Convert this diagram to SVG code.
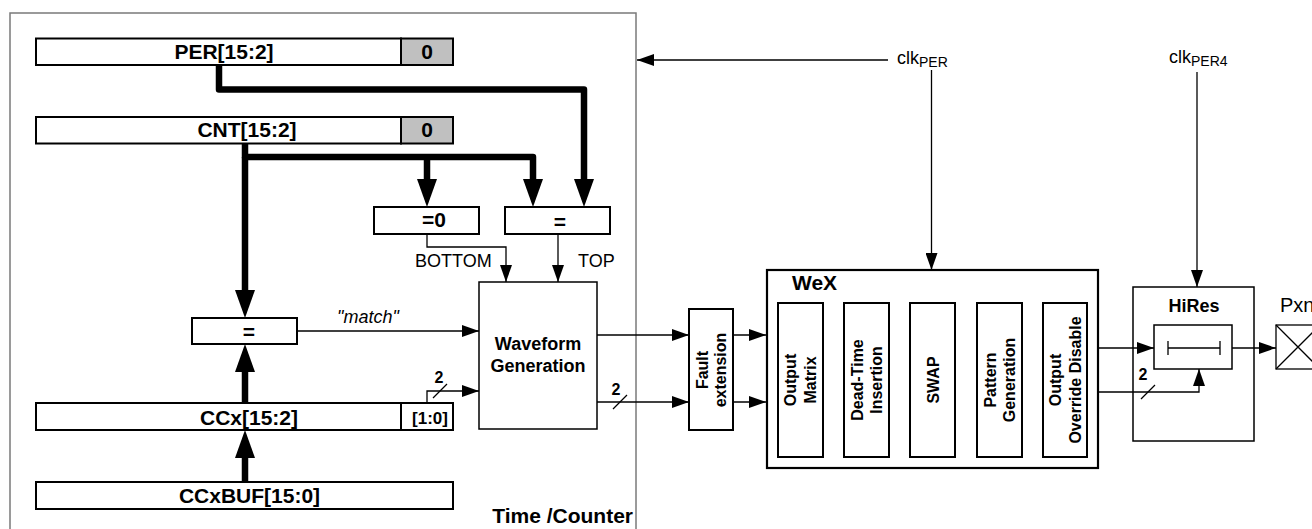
<svg xmlns="http://www.w3.org/2000/svg" width="1312" height="529" viewBox="0 0 1312 529">
<style>
text{font-family:"Liberation Sans",Arial,sans-serif;fill:#000}
.b{font-weight:bold}
.reg{fill:#fff;stroke:#000;stroke-width:2}
.gray{fill:#c0c0c0;stroke:#000;stroke-width:2}
.box{fill:#fff;stroke:#000;stroke-width:2}
.box1{fill:#fff;stroke:#000;stroke-width:1.5}
.thin{fill:none;stroke:#000;stroke-width:1.3}
.bus{fill:none;stroke:#000;stroke-width:6.5;stroke-linejoin:round}
.rt{font-size:21px;font-weight:bold;text-anchor:middle}
.vt{font-size:16px;font-weight:bold;text-anchor:middle}
.lbl{font-size:18px}
.n2{font-size:16px;font-weight:bold;text-anchor:middle}
</style>
<defs>
<marker id="a" markerUnits="userSpaceOnUse" markerWidth="17" markerHeight="12" refX="17" refY="6" orient="auto"><path d="M0,0 L17,6 L0,12 z" fill="#000"/></marker>
<marker id="A" markerUnits="userSpaceOnUse" markerWidth="28" markerHeight="20" refX="0" refY="10" orient="auto"><path d="M0,0 L28,10 L0,20 z" fill="#000"/></marker>
</defs>
<rect width="1312" height="529" fill="#fff"/>

<g id="time-counter">
<rect x="10" y="13" width="626" height="540" fill="none" stroke="#7a7a7a" stroke-width="1.5"/>
<text x="633" y="523" class="b" font-size="21" text-anchor="end">Time /Counter</text>
</g>

<g id="per">
<rect x="36" y="38.5" width="365" height="26.5" class="reg"/>
<rect x="401" y="38.5" width="52" height="26.5" class="gray"/>
<text x="224" y="58.5" class="rt">PER[15:2]</text>
<text x="427" y="58.5" class="rt">0</text>
</g>
<g id="cnt">
<rect x="36" y="117" width="365" height="26.5" class="reg"/>
<rect x="401" y="117" width="52" height="26.5" class="gray"/>
<text x="247" y="137" class="rt">CNT[15:2]</text>
<text x="427" y="137" class="rt">0</text>
</g>
<g id="ccx">
<rect x="36" y="403" width="365" height="27" class="reg"/>
<rect x="401" y="403" width="52" height="27" class="reg"/>
<text x="249" y="425" class="rt">CCx[15:2]</text>
<text x="430" y="424" class="b" font-size="17" text-anchor="middle">[1:0]</text>
</g>
<g id="ccxbuf">
<rect x="36" y="482" width="417" height="27" class="reg"/>
<text x="249.5" y="503" class="rt">CCxBUF[15:0]</text>
</g>
<g id="cmp-zero">
<rect x="374" y="207" width="105" height="27" class="box"/>
<text x="434" y="227" class="rt">=0</text>
</g>
<g id="cmp-top">
<rect x="505" y="207" width="105" height="27" class="box"/>
<text x="560" y="228.5" class="rt">=</text>
</g>
<g id="cmp-match">
<rect x="192" y="318" width="105" height="26" class="box"/>
<text x="249" y="338.5" class="rt">=</text>
</g>
<g id="waveform">
<rect x="479" y="282" width="118" height="147" class="box1"/>
<text x="538" y="350" class="b" font-size="18" text-anchor="middle">Waveform</text>
<text x="538" y="372" class="b" font-size="18" text-anchor="middle">Generation</text>
</g>
<g id="fault">
<rect x="689" y="309" width="44" height="121" class="box"/>
<text transform="translate(708,370) rotate(-90)" class="vt">Fault</text>
<text transform="translate(726,370) rotate(-90)" class="vt">extension</text>
</g>
<g id="wex">
<rect x="767" y="270" width="331" height="198" fill="#fff" stroke="#000" stroke-width="2.2"/>
<text x="792" y="290" class="b" font-size="21">WeX</text>
</g>
<g id="wex-output-matrix">
<rect x="778" y="303" width="45" height="154" class="box"/>
<text transform="translate(796,380) rotate(-90)" class="vt">Output</text>
<text transform="translate(815.5,380) rotate(-90)" class="vt">Matrix</text>
</g>
<g id="wex-deadtime">
<rect x="844" y="303" width="45" height="154" class="box"/>
<text transform="translate(862.5,380) rotate(-90)" class="vt">Dead-Time</text>
<text transform="translate(881.5,380) rotate(-90)" class="vt">Insertion</text>
</g>
<g id="wex-swap">
<rect x="910" y="303" width="45" height="154" class="box"/>
<text transform="translate(938.5,380) rotate(-90)" class="vt">SWAP</text>
</g>
<g id="wex-pattern">
<rect x="977" y="303" width="45" height="154" class="box"/>
<text transform="translate(995.5,380) rotate(-90)" class="vt">Pattern</text>
<text transform="translate(1014.5,380) rotate(-90)" class="vt">Generation</text>
</g>
<g id="wex-override">
<rect x="1043" y="303" width="44" height="154" class="box"/>
<text transform="translate(1061,380) rotate(-90)" class="vt">Output</text>
<text transform="translate(1081,380) rotate(-90)" class="vt">Override Disable</text>
</g>
<g id="hires">
<rect x="1133" y="287" width="121" height="154" class="box1"/>
<text x="1194" y="312" class="b" font-size="18" text-anchor="middle">HiRes</text>
<rect x="1154" y="325" width="78" height="44" class="box1"/>
<path class="thin" d="M1168,348 H1220 M1168,341 V355 M1220,341 V355"/>
</g>
<g id="pxn">
<rect x="1276" y="325" width="44" height="44" fill="#fff" stroke="#000" stroke-width="1.3"/>
<path class="thin" d="M1276,325 L1320,369 M1276,369 L1320,325"/>
<text x="1280" y="312" font-size="20">Pxn</text>
</g>
<g id="clk-per">
<text x="897" y="64" font-size="18">clk<tspan font-size="14" dy="3">PER</tspan></text>
</g>
<g id="clk-per4">
<text x="1169" y="63" font-size="18">clk<tspan font-size="14" dy="3">PER4</tspan></text>
</g>

<g id="connectors">
<path class="bus" d="M219,65 V89.5 H584 V179" marker-end="url(#A)"/>
<path class="bus" d="M245,143.5 V157 H533 V179" marker-end="url(#A)"/>
<path class="bus" d="M427,157 V179" marker-end="url(#A)"/>
<path class="bus" d="M245,157 V290" marker-end="url(#A)"/>
<path class="bus" d="M245,403 V372" marker-end="url(#A)"/>
<path class="bus" d="M245,482 V458" marker-end="url(#A)"/>
<path class="thin" d="M427,234 V247 H506 V282" marker-end="url(#a)"/>
<path class="thin" d="M558,234 V282" marker-end="url(#a)"/>
<path class="thin" d="M297,331 H479" marker-end="url(#a)"/>
<path class="thin" d="M427,403 V391 H479" marker-end="url(#a)"/>
<path class="thin" d="M597,335 H689" marker-end="url(#a)"/>
<path class="thin" d="M597,402 H689" marker-end="url(#a)"/>
<path class="thin" d="M733,335 H766" marker-end="url(#a)"/>
<path class="thin" d="M733,402 H766" marker-end="url(#a)"/>
<path class="thin" d="M888,60 H637" marker-end="url(#a)"/>
<path class="thin" d="M931.5,70 V270" marker-end="url(#a)"/>
<path class="thin" d="M1197,72 V287" marker-end="url(#a)"/>
<path class="thin" d="M1098,348 H1154" marker-end="url(#a)"/>
<path class="thin" d="M1098,392 H1199 V369" marker-end="url(#a)"/>
<path class="thin" d="M1232,348 H1276" marker-end="url(#a)"/>
<path class="thin" d="M433,398 L447,384 M613,409 L627,395 M1141,399 L1155,385"/>
<text x="439" y="383" class="n2">2</text>
<text x="616" y="395" class="n2">2</text>
<text x="1143" y="380" class="n2">2</text>
<text x="337" y="323" class="lbl" font-style="italic">"match"</text>
<text x="415" y="267" class="lbl">BOTTOM</text>
<text x="578" y="267" class="lbl">TOP</text>
</g>
</svg>
